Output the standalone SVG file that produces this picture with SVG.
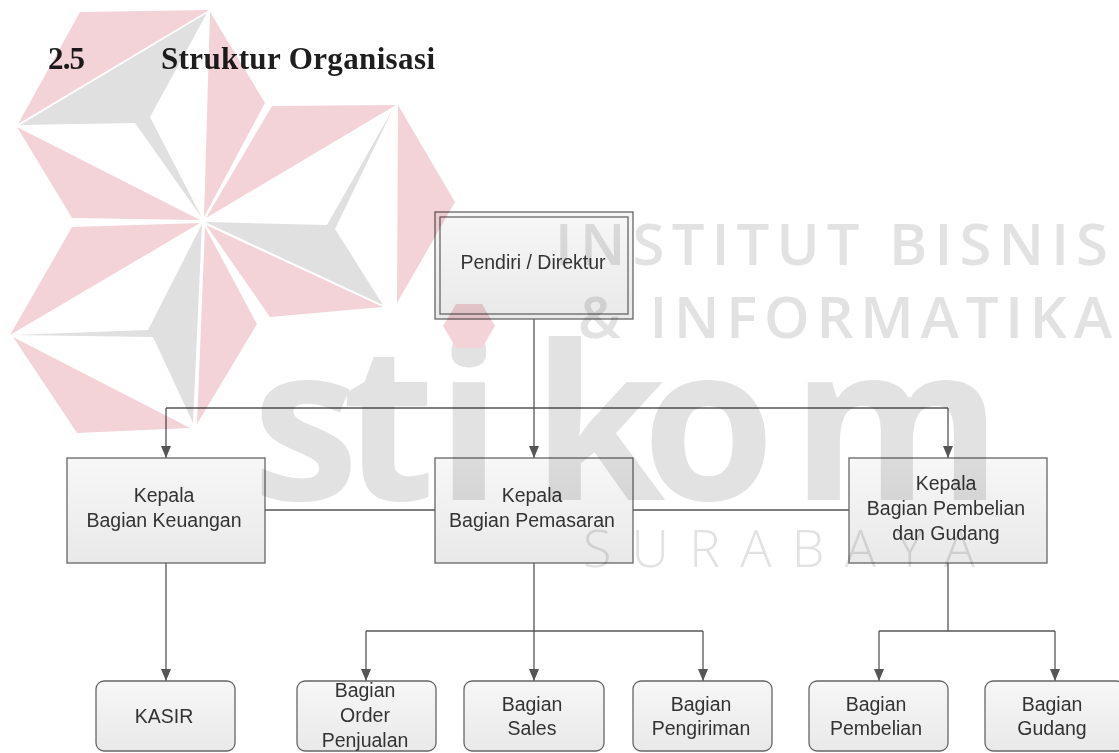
<svg xmlns="http://www.w3.org/2000/svg" width="1119" height="753" viewBox="0 0 1119 753">
<defs>
<linearGradient id="boxFill" x1="0" y1="0" x2="0" y2="1">
<stop offset="0" stop-color="#f7f7f7"/>
<stop offset="1" stop-color="#e9e9e9"/>
</linearGradient>
<marker id="arrow" viewBox="0 0 12 10" refX="12" refY="5" markerWidth="12" markerHeight="10" markerUnits="userSpaceOnUse" orient="auto">
<path d="M0,0 L12,5 L0,10 z" fill="#555"/>
</marker>
</defs>
<style>
.box{fill:url(#boxFill);stroke:#666;stroke-width:1.3}
.lbl{font-family:"Liberation Sans",Arial,sans-serif;font-size:19.5px;fill:#333;text-anchor:middle}
.edge{fill:none;stroke:#555;stroke-width:1.3}
.arr{marker-end:url(#arrow)}
.title{font-family:"Liberation Serif","Times New Roman",serif;font-weight:bold;font-size:31px;fill:#1e1e1e}
.pk{fill:#f3d3d8}
.gy{fill:#e0e0e0}
.wm{font-family:"Open Sans","Noto Sans",sans-serif;fill:#e2e2e2}
</style>
<rect width="1119" height="753" fill="#ffffff"/>

<g id="title">
<text class="title" x="48" y="69" textLength="37">2.5</text>
<text class="title" x="161" y="69" textLength="274">Struktur Organisasi</text>
</g>

<g id="connectors">
<path class="edge arr" d="M534,319 V458"/>
<path class="edge" d="M166,408 H948"/>
<path class="edge arr" d="M166,408 V458"/>
<path class="edge arr" d="M948,408 V458"/>
<path class="edge" d="M265,510 H435 M633,510 H849"/>
<path class="edge arr" d="M166,563 V681"/>
<path class="edge arr" d="M534,563 V681"/>
<path class="edge" d="M366,631 H703"/>
<path class="edge arr" d="M366,631 V681"/>
<path class="edge arr" d="M703,631 V681"/>
<path class="edge" d="M948,563 V631 M879,631 H1055"/>
<path class="edge arr" d="M879,631 V681"/>
<path class="edge arr" d="M1055,631 V681"/>
</g>

<g id="node-direktur">
<rect class="box" x="435" y="212" width="198" height="107"/>
<rect x="440" y="217" width="188" height="97" fill="none" stroke="#666" stroke-width="1.3"/>
<text class="lbl" x="533" y="269">Pendiri / Direktur</text>
</g>

<g id="node-keuangan">
<rect class="box" x="67" y="458" width="198" height="105"/>
<text class="lbl" x="164" y="502">Kepala</text>
<text class="lbl" x="164" y="527">Bagian Keuangan</text>
</g>

<g id="node-pemasaran">
<rect class="box" x="435" y="458" width="198" height="105"/>
<text class="lbl" x="532" y="502">Kepala</text>
<text class="lbl" x="532" y="527">Bagian Pemasaran</text>
</g>

<g id="node-pembelian-gudang">
<rect class="box" x="849" y="458" width="198" height="105"/>
<text class="lbl" x="946" y="490">Kepala</text>
<text class="lbl" x="946" y="515">Bagian Pembelian</text>
<text class="lbl" x="946" y="540">dan Gudang</text>
</g>

<g id="node-kasir">
<rect class="box" x="96" y="681" width="139" height="70" rx="8"/>
<text class="lbl" x="164" y="723">KASIR</text>
</g>

<g id="node-order">
<rect class="box" x="297" y="681" width="139" height="70" rx="8"/>
<text class="lbl" x="365" y="697">Bagian</text>
<text class="lbl" x="365" y="722">Order</text>
<text class="lbl" x="365" y="747">Penjualan</text>
</g>

<g id="node-sales">
<rect class="box" x="464" y="681" width="140" height="70" rx="8"/>
<text class="lbl" x="532" y="711">Bagian</text>
<text class="lbl" x="532" y="735">Sales</text>
</g>

<g id="node-pengiriman">
<rect class="box" x="633" y="681" width="139" height="70" rx="8"/>
<text class="lbl" x="701" y="711">Bagian</text>
<text class="lbl" x="701" y="735">Pengiriman</text>
</g>

<g id="node-pembelian">
<rect class="box" x="809" y="681" width="139" height="70" rx="8"/>
<text class="lbl" x="876" y="711">Bagian</text>
<text class="lbl" x="876" y="735">Pembelian</text>
</g>

<g id="node-gudang">
<rect class="box" x="985" y="681" width="139" height="70" rx="8"/>
<text class="lbl" x="1052" y="711">Bagian</text>
<text class="lbl" x="1052" y="735">Gudang</text>
</g>

<g id="watermark" style="mix-blend-mode:multiply">
<polygon class="pk" points="80,12 209,10 18,124"/>
<polygon class="pk" points="210,12 265,103 204,217"/>
<polygon class="pk" points="17,127 200,220 72,218"/>
<polygon class="pk" points="272,106 396,105 206,218"/>
<polygon class="pk" points="398,105 455,202 397,303"/>
<polygon class="pk" points="206,225 383,307 270,317"/>
<polygon class="pk" points="72,227 200,223 10,335"/>
<polygon class="pk" points="205,227 257,324 197,424"/>
<polygon class="pk" points="13,337 77,433 190,428"/>
<polygon class="gy" points="20,125 207,13 150,117 202,218 135,123"/>
<polygon class="gy" points="205,222 327,225 394,107 335,229 383,305"/>
<polygon class="gy" points="202,224 148,330 12,335 153,337 193,423"/>
<text class="wm" x="252 342 436 532 642 791" y="500" font-size="215" font-weight="700">stikom</text>
<polygon class="pk" points="443,326 456,304 482,304 495,326 482,348 456,348"/>
<text class="wm" x="555" y="265" font-size="58" font-weight="600" textLength="553" lengthAdjust="spacing">INSTITUT BISNIS</text>
<text class="wm" x="578" y="338" font-size="58" font-weight="600" textLength="534" lengthAdjust="spacing">&amp; INFORMATIKA</text>
<text class="wm" x="583" y="567" font-size="52" font-weight="300" textLength="392" lengthAdjust="spacing">SURABAYA</text>
</g>
</svg>
